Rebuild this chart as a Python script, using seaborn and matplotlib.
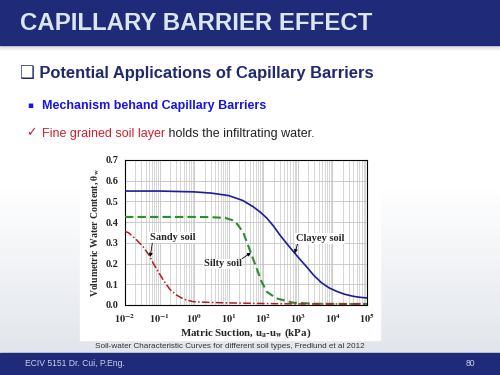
import numpy as np
import pandas as pd
import matplotlib
matplotlib.use('Agg')
import matplotlib.pyplot as plt
import seaborn as sns
from matplotlib.patches import Rectangle
from matplotlib.ticker import LogLocator, FuncFormatter, MultipleLocator, NullFormatter

# values: log10 of matric suction (kPa) and volumetric water content
clayey_log = [-2, -1, 0, 0.5, 1.0, 1.4, 1.7, 1.9, 2.1, 2.3, 2.48, 2.7, 2.91, 3.1, 3.25, 3.45, 3.68, 3.9, 4.12, 4.35, 4.6, 4.8, 5.0]
clayey_theta = [0.55, 0.55, 0.546, 0.54, 0.528, 0.505, 0.475, 0.45, 0.42, 0.38, 0.338, 0.292, 0.25, 0.213, 0.185, 0.145, 0.108, 0.083, 0.066, 0.052, 0.042, 0.037, 0.034]

silty_log = [-2, -1, 0, 0.5, 0.9, 1.1, 1.25, 1.42, 1.6, 1.8, 1.95, 2.1, 2.38, 2.86, 3.5, 4.5, 5.0]
silty_theta = [0.425, 0.425, 0.425, 0.424, 0.42, 0.41, 0.39, 0.35, 0.27, 0.18, 0.113, 0.064, 0.032, 0.011, 0.006, 0.005, 0.005]

sandy_log = [-2, -1.9, -1.7, -1.47, -1.3, -1.18, -1.0, -0.89, -0.7, -0.51, -0.3, -0.03, 0.5, 1.0, 2.0, 3.0, 4.0, 5.0]
sandy_theta = [0.355, 0.349, 0.32, 0.28, 0.24, 0.2, 0.15, 0.12, 0.075, 0.048, 0.028, 0.016, 0.012, 0.01, 0.007, 0.005, 0.005, 0.005]

curve_names = ['Clayey soil', 'Silty soil', 'Sandy soil']

sns.set_style('white')
plt.rcParams['font.family'] = ['Liberation Sans', 'DejaVu Sans']
plt.rcParams['mathtext.fontset'] = 'stix'
plt.rcParams['mathtext.default'] = 'bf'

fig = plt.figure(figsize=(5, 3.75), dpi=100)

# slide background, in pixel units
bg = fig.add_axes([0, 0, 1, 1])
bg.set_xlim(0, 500)
bg.set_ylim(375, 0)
bg.axis('off')

ys = np.linspace(45, 353, 300)
t = np.clip((ys - 190) / (353 - 190), 0, 1)[:, None]
top_col = np.array([1.0, 1.0, 1.0])
bot_col = np.array([0.885, 0.9, 0.925])
grad = (top_col * (1 - t) + bot_col * t)[:, None, :]
bg.imshow(grad, extent=(0, 500, 353, 45), aspect='auto', zorder=0)

navy = '#1f2b78'
bg.add_patch(Rectangle((0, 0), 500, 45, color=navy, zorder=2))
for i in range(6):
    bg.add_patch(Rectangle((0, 45 + i), 500, 1, color='black', alpha=0.16 * (1 - i / 6), lw=0, zorder=1))
bg.add_patch(Rectangle((0, 353), 500, 22, color=navy, zorder=2))
bg.add_patch(Rectangle((80, 155), 300, 185, color='white', zorder=1))

bg.text(20, 23, 'CAPILLARY BARRIER EFFECT', color='#dce6f2', fontsize=17.3,
        fontweight='bold', va='center', zorder=3)
bg.text(20, 73, '❑ Potential Applications of Capillary Barriers', color='#1f2a6e',
        fontsize=11.9, fontweight='bold', va='center', zorder=3)
bg.text(27, 106, '▪', color='#1515e6', fontsize=6.5, va='center', zorder=3,
        family=['DejaVu Sans'])
bg.text(42, 106, 'Mechanism behand Capillary Barriers', color='#1515e6', fontsize=9,
        fontweight='bold', va='center', zorder=3)
bg.text(26, 133, '✓', color='#c0202e', fontsize=9, va='center', zorder=3,
        family=['DejaVu Sans'])
t1 = bg.text(42, 134, 'Fine grained soil layer', color='#d0202e', fontsize=9,
             va='center', zorder=3)
bg.annotate(' holds the infiltrating water.', xy=(1, 0), xycoords=t1, va='bottom',
            color='#222222', fontsize=9, zorder=3)
bg.text(230, 347, 'Soil-water Characteristic Curves for different soil types, Fredlund et al 2012',
        color='#333333', fontsize=5.9, ha='center', va='center', zorder=3)
bg.text(25, 364, 'ECIV 5151 Dr. Cui, P.Eng.', color='#c8d2ea', fontsize=6.2,
        va='center', zorder=3)
bg.text(470, 364, '80', color='#c8d2ea', fontsize=6.2, ha='center', va='center', zorder=3)

# the chart
ax = fig.add_axes([0.25, 0.1867, 0.484, 0.3867])
ax.set_facecolor('white')
ax.set_xscale('log')

clayey = pd.DataFrame({'suction': 10 ** np.array(clayey_log), 'theta': clayey_theta})
silty = pd.DataFrame({'suction': 10 ** np.array(silty_log), 'theta': silty_theta})
sandy = pd.DataFrame({'suction': 10 ** np.array(sandy_log), 'theta': sandy_theta})

sns.lineplot(data=clayey, x='suction', y='theta', ax=ax, color='#1c1c9c', lw=1.2, zorder=4)
sns.lineplot(data=silty, x='suction', y='theta', ax=ax, color='#2e8b2e', lw=1.5,
             linestyle=(0, (4, 2)), zorder=4)
sns.lineplot(data=sandy, x='suction', y='theta', ax=ax, color='#b02020', lw=1.1,
             linestyle=(0, (5, 1.5, 1, 1.5)), zorder=4)

ax.set_xlim(1e-2, 1e5)
ax.set_ylim(0, 0.7)
ax.yaxis.set_major_locator(MultipleLocator(0.1))
ax.xaxis.set_major_locator(LogLocator(base=10, numticks=20))
ax.xaxis.set_minor_locator(LogLocator(base=10, subs=np.arange(2, 10), numticks=20))
ax.xaxis.set_minor_formatter(NullFormatter())
ax.xaxis.set_major_formatter(FuncFormatter(lambda v, p: r'$10^{%d}$' % round(np.log10(v))))
ax.yaxis.set_major_formatter(FuncFormatter(lambda v, p: '%.1f' % v))

ax.grid(which='major', color='#c4c4c4', lw=0.6, zorder=0)
ax.grid(which='minor', axis='x', color='#d0d0d0', lw=0.6, zorder=0)
ax.set_axisbelow(True)

serif = ['Liberation Serif', 'DejaVu Serif']
for lab in ax.get_xticklabels() + ax.get_yticklabels():
    lab.set_family(serif)
    lab.set_fontweight('bold')
    lab.set_fontsize(7.3)
ax.tick_params(which='major', direction='out', length=3, width=0.6, color='black', pad=2)
ax.tick_params(which='minor', length=0)
for s in ax.spines.values():
    s.set_color('black')
    s.set_linewidth(0.8)

ax.set_xlabel('Matric Suction, u$_a$-u$_w$ (kPa)', family=serif, fontweight='bold',
              fontsize=7.8, labelpad=1)
ax.set_ylabel(r'Volumetric Water Content, $\theta_w$', family=serif, fontweight='bold',
              fontsize=7, labelpad=3)

arrow = dict(arrowstyle='-|>', color='black', lw=0.6, mutation_scale=5, shrinkA=0, shrinkB=0)
box = dict(fc='white', ec='none', pad=0.6)
ax.annotate(curve_names[2], xy=(10 ** -1.27, 0.232), xytext=(10 ** -0.61, 0.325),
            ha='center', va='center', family=serif, fontweight='bold', fontsize=7.5,
            bbox=box, arrowprops=dict(arrow, relpos=(0.05, 0.1)), zorder=5)
ax.annotate(curve_names[1], xy=(10 ** 1.64, 0.252), xytext=(10 ** 0.82, 0.198),
            ha='center', va='center', family=serif, fontweight='bold', fontsize=7.5,
            bbox=box, arrowprops=dict(arrow, relpos=(0.95, 0.9)), zorder=5)
ax.annotate(curve_names[0], xy=(10 ** 2.91, 0.25), xytext=(10 ** 3.64, 0.322),
            ha='center', va='center', family=serif, fontweight='bold', fontsize=7.5,
            bbox=box, arrowprops=dict(arrow, relpos=(0.05, 0.1)), zorder=5)

fig.savefig('out.png', dpi=100)
